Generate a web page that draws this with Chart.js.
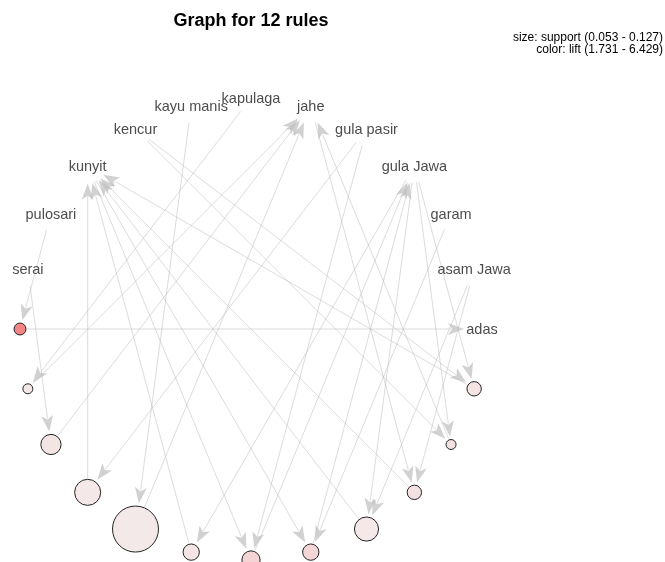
<!DOCTYPE html>
<html>
<head>
<meta charset="utf-8">
<script src="https://cdn.jsdelivr.net/npm/chart.js@4"></script>
<style>
  html, body { margin: 0; padding: 0; background: #fff; }
  #wrap { width: 665px; height: 562px; }
</style>
</head>
<body>
<div id="wrap"><canvas id="graph"></canvas></div>
<script>
// items (label vertices) in layout order
const items = ['adas', 'asam Jawa', 'garam', 'gula Jawa', 'gula pasir', 'jahe',
  'kapulaga', 'kayu manis', 'kencur', 'kunyit', 'pulosari', 'serai'];

// the 12 rules: lhs => rhs
const lhs = [
  ['pulosari'], ['kapulaga'], ['serai'], ['gula pasir'], ['kayu manis'], ['gula Jawa'],
  ['kunyit', 'gula pasir'], ['kunyit', 'garam'], ['gula Jawa', 'asam Jawa'],
  ['jahe', 'asam Jawa'], ['gula Jawa', 'kencur'], ['gula Jawa', 'kencur'],
];
const rhs = ['adas', 'jahe', 'jahe', 'kunyit', 'jahe', 'kunyit',
  'gula Jawa', 'gula Jawa', 'kunyit', 'kunyit', 'jahe', 'kunyit'];
const support = [0.057, 0.053, 0.074, 0.086, 0.127, 0.066, 0.070, 0.066, 0.082, 0.062, 0.053, 0.062];
const lift = [6.429, 1.85, 1.90, 1.76, 1.731, 1.95, 2.72, 2.60, 1.80, 2.05, 2.10, 1.98];

const sizeRange = [0.053, 0.127];
const liftRange = [1.731, 6.429];

// circle layout like igraph: items first, then rules, counter-clockwise from the right
const n = items.length + rhs.length;
const onCircle = k => ({ x: Math.cos(2 * Math.PI * k / n), y: Math.sin(2 * Math.PI * k / n) });
const itemPts = items.map((_, i) => onCircle(i));
const rulePts = rhs.map((_, j) => onCircle(items.length + j));

const radius = s => 5 + 18 * (s - sizeRange[0]) / (sizeRange[1] - sizeRange[0]);
const lowCol = [244, 233, 233];
const highCol = [242, 132, 132];
const fill = l => {
  const t = (l - liftRange[0]) / (liftRange[1] - liftRange[0]);
  const c = lowCol.map((v, i) => Math.round(v + t * (highCol[i] - v)));
  return `rgb(${c[0]},${c[1]},${c[2]})`;
};

function arrow(ctx, a, b, startGap, endGap) {
  const dx = b.x - a.x, dy = b.y - a.y;
  const len = Math.hypot(dx, dy);
  const ux = dx / len, uy = dy / len;
  const sx = a.x + ux * startGap, sy = a.y + uy * startGap;
  const tx = b.x - ux * endGap, ty = b.y - uy * endGap;
  const L = 16, W = 6;
  const bx = tx - ux * L, by = ty - uy * L;
  ctx.beginPath();
  ctx.moveTo(sx, sy);
  ctx.lineTo(bx + ux * 3, by + uy * 3);
  ctx.stroke();
  ctx.beginPath();
  ctx.moveTo(tx, ty);
  ctx.lineTo(bx - uy * W, by + ux * W);
  ctx.lineTo(tx - ux * L * 0.75, ty - uy * L * 0.75);
  ctx.lineTo(bx + uy * W, by - ux * W);
  ctx.closePath();
  ctx.fill();
}

const graphPlugin = {
  id: 'graph',
  beforeDatasetsDraw(chart) {
    const ctx = chart.ctx;
    const rules = chart.getDatasetMeta(0).data;
    const nodes = chart.getDatasetMeta(1).data;
    ctx.save();
    ctx.strokeStyle = 'rgba(185,185,185,0.5)';
    ctx.fillStyle = 'rgba(190,190,190,0.7)';
    ctx.lineWidth = 1;
    rhs.forEach((r, j) => {
      const p = rules[j];
      const rr = radius(support[j]);
      lhs[j].forEach(it => arrow(ctx, nodes[items.indexOf(it)], p, 17, rr + 3));
      arrow(ctx, p, nodes[items.indexOf(r)], rr + 1, 18);
    });
    ctx.restore();
  },
  afterDatasetsDraw(chart) {
    const ctx = chart.ctx;
    const nodes = chart.getDatasetMeta(1).data;
    ctx.save();
    ctx.font = '14.5px "Liberation Sans", Arial, sans-serif';
    ctx.fillStyle = '#4d4d4d';
    ctx.textAlign = 'center';
    ctx.textBaseline = 'middle';
    items.forEach((name, i) => ctx.fillText(name, nodes[i].x, nodes[i].y + 1));
    ctx.restore();
  },
  afterDraw(chart) {
    const ctx = chart.ctx;
    ctx.save();
    ctx.font = '12px "Liberation Sans", Arial, sans-serif';
    ctx.fillStyle = '#000';
    ctx.textAlign = 'right';
    ctx.textBaseline = 'middle';
    ctx.fillText(`size: support (${sizeRange[0].toFixed(3)} - ${sizeRange[1].toFixed(3)})`, 663, 38);
    ctx.fillText(`color: lift (${liftRange[0].toFixed(3)} - ${liftRange[1].toFixed(3)})`, 663, 50);
    ctx.restore();
  },
};

new Chart(document.getElementById('graph'), {
  type: 'scatter',
  data: {
    datasets: [
      {
        data: rulePts,
        pointRadius: ctx => radius(support[ctx.dataIndex]),
        pointBackgroundColor: lift.map(fill),
        pointBorderColor: '#222222',
        pointBorderWidth: 1,
        clip: false,
      },
      {
        data: itemPts,
        pointRadius: 0,
        clip: false,
      },
    ],
  },
  options: {
    responsive: true,
    maintainAspectRatio: false,
    animation: false,
    events: [],
    layout: {
      autoPadding: false,
      padding: { left: 20, right: 183, top: 0, bottom: 2 },
    },
    scales: {
      x: { type: 'linear', min: -1, max: 1, display: false },
      y: { type: 'linear', min: -1, max: 1, display: false },
    },
    plugins: {
      legend: { display: false },
      tooltip: { enabled: false },
      title: {
        display: true,
        text: 'Graph for 12 rules',
        fullSize: false,
        color: '#000',
        font: { family: '"Liberation Sans", Arial, sans-serif', size: 18, weight: 'bold' },
        padding: { top: 10, bottom: 66.4 },
      },
    },
  },
  plugins: [graphPlugin],
});
</script>
</body>
</html>
